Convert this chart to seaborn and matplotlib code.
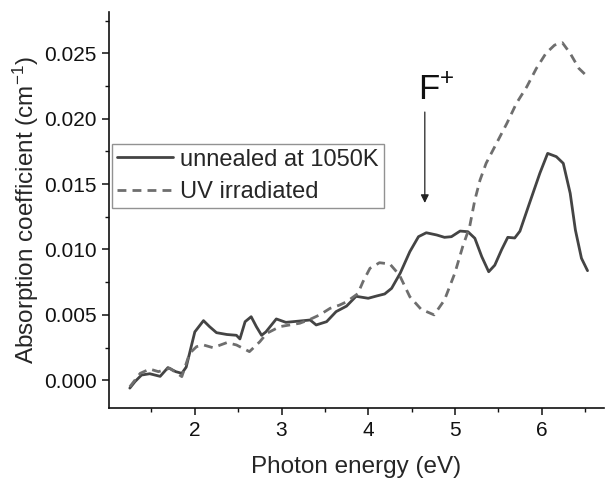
import numpy as np
import pandas as pd
import matplotlib
matplotlib.use("Agg")
import matplotlib.pyplot as plt
from matplotlib.ticker import MultipleLocator
import seaborn as sns

# ---- data ----
energy_annealed = [1.25, 1.31, 1.385, 1.48, 1.60, 1.69, 1.78, 1.85, 1.90, 2.00, 2.10, 2.17, 2.25,
                   2.37, 2.48, 2.52, 2.58, 2.65, 2.71, 2.77, 2.82, 2.94, 3.05, 3.21, 3.33, 3.40,
                   3.52, 3.63, 3.75, 3.86, 4.00, 4.10, 4.19, 4.27, 4.37, 4.48, 4.58, 4.67, 4.79,
                   4.88, 4.96, 5.06, 5.15, 5.23, 5.31, 5.39, 5.46, 5.54, 5.61, 5.69, 5.75, 5.86,
                   5.98, 6.07, 6.17, 6.25, 6.33, 6.39, 6.46, 6.53]
absorb_annealed = [-0.0006, -0.0001, 0.0004, 0.0005, 0.0003, 0.00097, 0.00066, 0.00053, 0.0010,
                   0.0037, 0.00456, 0.0041, 0.00364, 0.0035, 0.00344, 0.00316, 0.00448, 0.00486,
                   0.0041, 0.00344, 0.0037, 0.00469, 0.00443, 0.00453, 0.00461, 0.00423, 0.00448,
                   0.00525, 0.00567, 0.00642, 0.00627, 0.00645, 0.0066, 0.00703, 0.0082, 0.00983,
                   0.01098, 0.01128, 0.01111, 0.01093, 0.01098, 0.01141, 0.01136, 0.01086, 0.00945,
                   0.0083, 0.00880, 0.01000, 0.01093, 0.01088, 0.01140, 0.01353, 0.01583, 0.01735,
                   0.01710, 0.01659, 0.0143, 0.01149, 0.00933, 0.00838]

energy_uv = [1.25, 1.37, 1.48, 1.58, 1.71, 1.85, 1.94, 2.02, 2.10, 2.21, 2.37, 2.48, 2.63, 2.75,
             2.83, 2.98, 3.21, 3.33, 3.44, 3.56, 3.67, 3.75, 3.88, 3.94, 4.02, 4.13, 4.25, 4.36,
             4.48, 4.61, 4.76, 4.88, 5.00, 5.09, 5.17, 5.23, 5.29, 5.36, 5.48, 5.60, 5.71, 5.83,
             5.94, 6.05, 6.15, 6.24, 6.33, 6.43, 6.53]
absorb_uv = [-0.0005, 0.00053, 0.00086, 0.00066, 0.00092, 0.00028, 0.00206, 0.00257, 0.0027,
             0.00249, 0.00288, 0.0027, 0.00219, 0.00295, 0.00359, 0.0041, 0.00436, 0.00466,
             0.0050, 0.0055, 0.00575, 0.0060, 0.00662, 0.00754, 0.00856, 0.00899, 0.00889,
             0.00805, 0.00639, 0.00543, 0.0050, 0.00614, 0.0082, 0.01022, 0.01174, 0.01378,
             0.01531, 0.01659, 0.01812, 0.01965, 0.02118, 0.02245, 0.02385, 0.0250, 0.02563,
             0.02581, 0.0250, 0.02385, 0.02321]

label_annealed = "unnealed at 1050K"
label_uv = "UV irradiated"

df_a = pd.DataFrame({"energy": energy_annealed, "absorb": absorb_annealed})
df_u = pd.DataFrame({"energy": energy_uv, "absorb": absorb_uv})

# ---- style ----
sns.set_style("ticks")
plt.rcParams["font.family"] = ["Liberation Sans", "DejaVu Sans"]
plt.rcParams["mathtext.fontset"] = "custom"
plt.rcParams["mathtext.rm"] = "Liberation Sans"
plt.rcParams["mathtext.it"] = "Liberation Sans:italic"
plt.rcParams["lines.solid_joinstyle"] = "round"
plt.rcParams["lines.dash_joinstyle"] = "round"

fig = plt.figure(figsize=(6.05, 4.79), dpi=100)
ax = fig.add_axes([109 / 605, 1 - 408 / 479, 495 / 605, 396 / 479])

sns.lineplot(data=df_a, x="energy", y="absorb", ax=ax, color="#444444", linewidth=2.0,
             label=label_annealed, sort=False)
sns.lineplot(data=df_u, x="energy", y="absorb", ax=ax, color="#6e6e6e", linewidth=2.0,
             linestyle=(0, (3.2, 2.2)), label=label_uv, sort=False)

ax.set_xlim(1.01, 6.72)
ax.set_ylim(-0.00212, 0.02816)
ax.xaxis.set_major_locator(MultipleLocator(1))
ax.xaxis.set_minor_locator(MultipleLocator(0.5))
ax.yaxis.set_major_locator(MultipleLocator(0.005))
ax.yaxis.set_minor_locator(MultipleLocator(0.0025))
ax.yaxis.set_major_formatter(matplotlib.ticker.FormatStrFormatter("%.3f"))

for s in ["top", "right"]:
    ax.spines[s].set_visible(False)
for s in ["left", "bottom"]:
    ax.spines[s].set_linewidth(1.2)
    ax.spines[s].set_color("#111111")

ax.tick_params(which="major", direction="out", length=5, width=1.1, labelsize=15,
               colors="#111111", pad=4)
ax.tick_params(which="minor", direction="out", length=3, width=1.0, colors="#111111")

ax.set_xlabel("Photon energy (eV)", fontsize=17.5, labelpad=12)
ax.set_ylabel("Absorption coefficient (cm$^{-1}$)", fontsize=17.5, labelpad=2)

leg = ax.legend(loc="upper left", bbox_to_anchor=(0.006, 0.667), borderaxespad=0,
                fontsize=17, frameon=True, fancybox=False, handlelength=2.4,
                handletextpad=0.3, borderpad=0.2, labelspacing=0.45)
leg.get_frame().set_edgecolor("#777777")
leg.get_frame().set_linewidth(1.0)

ax.annotate("", xy=(4.653, 0.01356), xytext=(4.653, 0.02051),
            arrowprops=dict(arrowstyle="-|>", color="#222222", lw=0.9,
                            mutation_scale=12, shrinkA=0, shrinkB=0))
ax.text(4.572, 0.02143, "F$^{+}$", fontsize=25, ha="left", va="baseline", color="#111111")

fig.savefig("out.png", dpi=100)
